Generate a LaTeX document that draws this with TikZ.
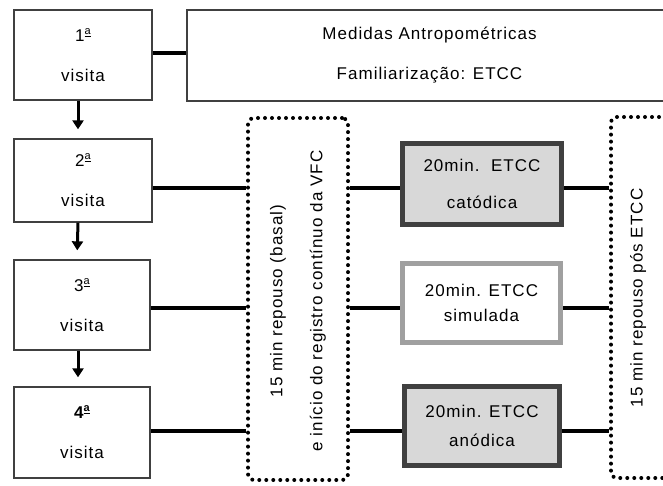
\documentclass[tikz,border=0pt]{standalone}
\usepackage{fontspec}
\setmainfont{Liberation Sans}[LetterSpace=6]
\usetikzlibrary{arrows.meta}
\definecolor{edge}{HTML}{404040}
\definecolor{boxfill}{HTML}{D8D8D8}
\definecolor{simedge}{HTML}{A0A0A0}
\newcommand\orda{\raisebox{0.42em}{\fontsize{11}{11}\selectfont\underline{a}}}
\tikzset{
  visitbox/.style={draw=edge, line width=1.3pt, fill=white, align=center, inner sep=0pt,
    font=\fontsize{17}{19}\selectfont},
  topbox/.style={draw=edge, line width=1.3pt, fill=white, align=center, inner sep=0pt,
    font=\fontsize{17}{19}\selectfont},
  etccbox/.style={draw=edge, line width=5pt, fill=boxfill, align=center, inner sep=0pt,
    font=\fontsize{17}{19}\selectfont},
  simbox/.style={draw=simedge, line width=5pt, fill=white, align=center, inner sep=0pt,
    font=\fontsize{17}{19}\selectfont},
  dotbox/.style={draw=black, line width=4pt, dash pattern=on 0pt off 7pt, line cap=round,
    rounded corners=6pt, inner sep=0pt},
  rottext/.style={rotate=90, align=center, font=\fontsize{17}{19}\selectfont},
  link/.style={line width=4pt, black},
  nextarrow/.style={line width=3pt, black, -{Triangle[width=11pt,length=9pt]}, shorten >=9pt}
}
\begin{document}
\begin{tikzpicture}[x=1pt,y=-1pt]
\clip (0,0) rectangle (663,486);
\fill[white] (0,0) rectangle (663,486);

% visit boxes
\node[visitbox, minimum width=138pt, minimum height=90pt] (v1) at (83,55) {1\orda\\[21pt]visita};
\node[visitbox, minimum width=138pt, minimum height=83pt] (v2) at (83,180.5) {2\orda\\[21pt]visita};
\node[visitbox, minimum width=136pt, minimum height=90pt] (v3) at (82,305) {3\orda\\[21pt]visita};
\node[visitbox, minimum width=136pt, minimum height=91pt] (v4) at (82,432.5) {\textbf{4\orda}\\[21pt]visita};

% top box
\node[topbox, minimum width=485pt, minimum height=91pt] (top) at (429.5,55.5)
  {Medidas Antropométricas\\[21pt]Familiarização: ETCC};

% dotted boxes
\node[dotbox, minimum width=100pt, minimum height=362pt] (ldot) at (298,299) {};
\node[rottext] (ltext) at (298,301) {15 min repouso (basal)\\[21pt]e início do registro contínuo da VFC};
\node[dotbox, minimum width=110pt, minimum height=361pt] (rdot) at (666,297.5) {};
\node[rottext] (rtext) at (638,298) {15 min repouso pós ETCC};

% ETCC boxes
\node[etccbox, minimum width=159pt, minimum height=81pt] (cat) at (482,184) {20min.\ \ ETCC\\[18pt]catódica};
\node[simbox, minimum width=158pt, minimum height=79pt] (sim) at (481.5,303) {20min. ETCC\\[6pt]simulada};
\node[etccbox, minimum width=155pt, minimum height=79pt] (ano) at (482,426) {20min. ETCC\\[10pt]anódica};

% row coordinates
\coordinate (r2) at ([yshift=-7.5pt]v2.east);
\coordinate (r3) at ([yshift=-3pt]v3.east);
\coordinate (r4) at ([yshift=1.5pt]v4.east);

% connectors
\draw[link] ([yshift=2pt]v1.east) -- ([yshift=2pt]v1.east -| top.west);
\foreach \r/\b in {r2/cat, r3/sim, r4/ano}{
  \draw[link] (\r) -- (\r -| ldot.west);
  \draw[link] (\r -| ldot.east) -- (\r -| \b.west);
  \draw[link] (\r -| \b.east) -- (\r -| rdot.west);
}

% arrows between visits
\draw[nextarrow] ([xshift=-5pt]v1.south) -- ([xshift=-5pt]v2.north);
\draw[nextarrow] ([xshift=-5pt]v2.south) -- ([xshift=-5pt]v3.north);
\draw[nextarrow] ([xshift=-4pt]v3.south) -- ([xshift=-4pt]v4.north);
\end{tikzpicture}
\end{document}
